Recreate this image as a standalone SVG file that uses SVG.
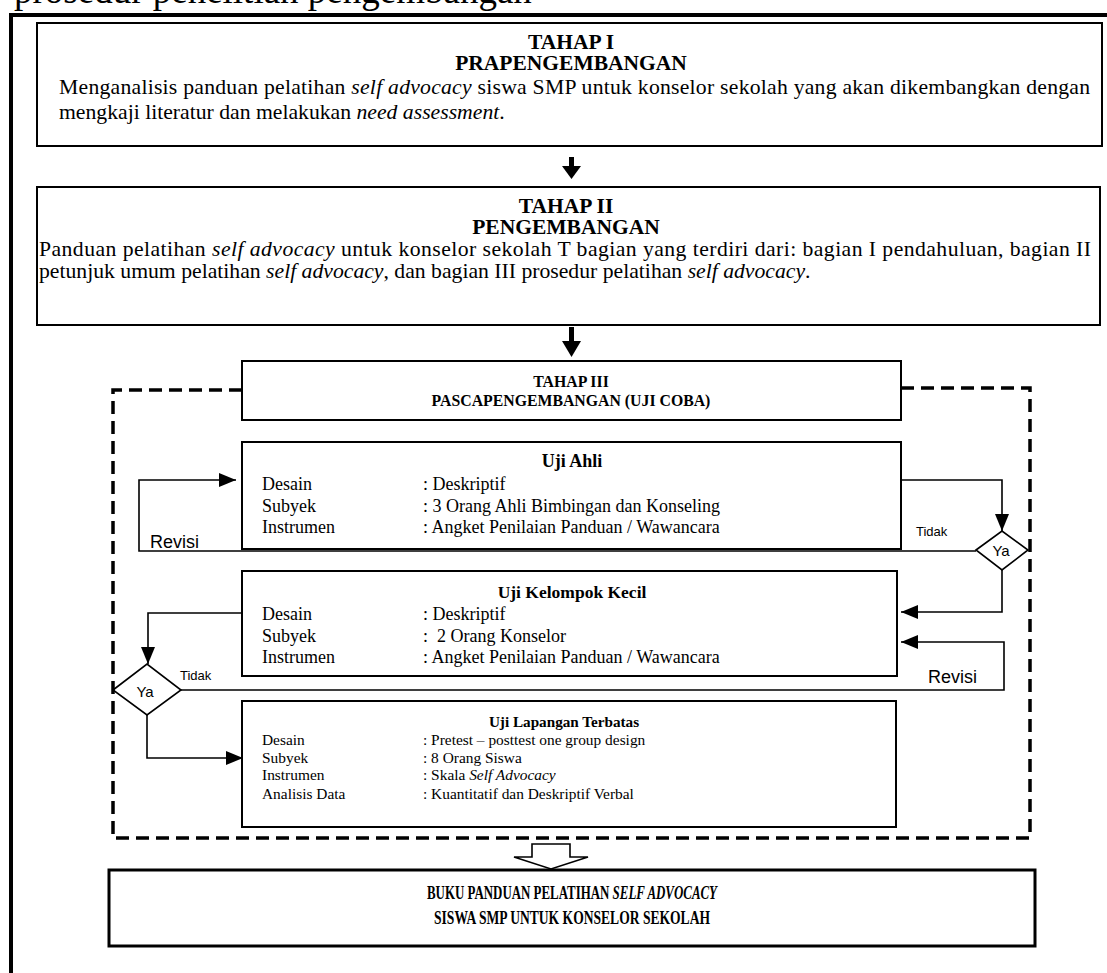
<svg xmlns="http://www.w3.org/2000/svg" width="1107" height="973" viewBox="0 0 1107 973">
<defs>
<style>
.box{fill:#fff;stroke:#000;stroke-width:2}
.t{font-family:"Liberation Serif","Times New Roman",serif;fill:#000}
.b{font-weight:bold}
.body{font-size:21.7px}
.h1{font-size:21.5px;font-weight:bold;text-anchor:middle}
.s{font-family:"Liberation Sans",Arial,sans-serif;fill:#000}
.ln{fill:none;stroke:#000;stroke-width:1.6}
.dash{fill:none;stroke:#000;stroke-width:3.5;stroke-dasharray:13 7}
.row{font-size:18px}
.row2{font-size:15.4px}
</style>
<marker id="ah" viewBox="0 0 17 14" refX="17" refY="7" markerWidth="17" markerHeight="14" markerUnits="userSpaceOnUse" orient="auto">
<path d="M0,0 L17,7 L0,14 Z" fill="#000"/>
</marker>
</defs>
<rect width="1107" height="973" fill="#fff"/>
<text class="t" x="14" y="3" font-size="37">prosedur penelitian pengembangan</text>
<path d="M11,973 V15 H1107" fill="none" stroke="#000" stroke-width="4"/>

<g id="tahap1">
<rect class="box" x="37" y="23" width="1065" height="123"/>
<text class="t h1" x="571" y="49">TAHAP I</text>
<text class="t h1" x="571" y="70">PRAPENGEMBANGAN</text>
<text class="t body" x="59" y="94" textLength="1031" lengthAdjust="spacing">Menganalisis panduan pelatihan <tspan font-style="italic">self advocacy</tspan> siswa SMP untuk konselor sekolah yang akan dikembangkan dengan</text>
<text class="t body" x="59" y="119">mengkaji literatur dan melakukan <tspan font-style="italic">need assessment</tspan>.</text>
</g>

<g id="tahap2">
<rect class="box" x="37" y="187" width="1063" height="138"/>
<text class="t h1" x="566" y="213">TAHAP II</text>
<text class="t h1" x="566" y="234">PENGEMBANGAN</text>
<text class="t body" x="39" y="256" textLength="1052" lengthAdjust="spacing">Panduan pelatihan <tspan font-style="italic">self advocacy</tspan> untuk konselor sekolah T bagian yang terdiri dari: bagian I pendahuluan, bagian II</text>
<text class="t body" x="39" y="278">petunjuk umum pelatihan <tspan font-style="italic">self advocacy</tspan>, dan bagian III prosedur pelatihan <tspan font-style="italic">self advocacy</tspan>.</text>
</g>

<g id="tahap3">
<rect class="box" x="242" y="361" width="659" height="59"/>
<text class="t b" x="571" y="387" font-size="15.8" text-anchor="middle">TAHAP III</text>
<text class="t b" x="571" y="406" font-size="15.8" text-anchor="middle">PASCAPENGEMBANGAN (UJI COBA)</text>
</g>

<g id="uji-ahli">
<rect class="box" x="242" y="442" width="659" height="107"/>
<text class="t b" x="572" y="467" font-size="18" text-anchor="middle">Uji Ahli</text>
<text class="t row" x="262" y="490">Desain</text>
<text class="t row" x="423" y="490">: Deskriptif</text>
<text class="t row" x="262" y="512">Subyek</text>
<text class="t row" x="423" y="512">: 3 Orang Ahli Bimbingan dan Konseling</text>
<text class="t row" x="262" y="533">Instrumen</text>
<text class="t row" x="423" y="533">: Angket Penilaian Panduan / Wawancara</text>
</g>

<g id="uji-kelompok-kecil">
<rect class="box" x="242" y="571" width="655" height="105"/>
<text class="t b" x="572" y="598" font-size="17.5" text-anchor="middle">Uji Kelompok Kecil</text>
<text class="t row" x="262" y="620">Desain</text>
<text class="t row" x="423" y="620">: Deskriptif</text>
<text class="t row" x="262" y="642">Subyek</text>
<text class="t row" x="423" y="642" xml:space="preserve">:  2 Orang Konselor</text>
<text class="t row" x="262" y="663">Instrumen</text>
<text class="t row" x="423" y="663">: Angket Penilaian Panduan / Wawancara</text>
</g>

<g id="uji-lapangan-terbatas">
<rect class="box" x="242" y="701" width="654" height="126"/>
<text class="t b" x="564" y="727" font-size="15.2" text-anchor="middle">Uji Lapangan Terbatas</text>
<text class="t row2" x="262" y="745">Desain</text>
<text class="t row2" x="423" y="745">: Pretest – posttest one group design</text>
<text class="t row2" x="262" y="763">Subyek</text>
<text class="t row2" x="423" y="763">: 8 Orang Siswa</text>
<text class="t row2" x="262" y="780">Instrumen</text>
<text class="t row2" x="423" y="780">: Skala <tspan font-style="italic">Self Advocacy</tspan></text>
<text class="t row2" x="262" y="799">Analisis Data</text>
<text class="t row2" x="423" y="799">: Kuantitatif dan Deskriptif Verbal</text>
</g>

<g id="decision-right">
<polygon points="976,550 1002,531 1028,550 1002,570" fill="#fff" stroke="#000" stroke-width="1.6"/>
<text class="s" x="1001" y="556" font-size="15" text-anchor="middle">Ya</text>
</g>

<g id="decision-left">
<polygon points="113,690 147,664 181,690 147,715" fill="#fff" stroke="#000" stroke-width="1.6"/>
<text class="s" x="145" y="697" font-size="15" text-anchor="middle">Ya</text>
</g>

<g id="final">
<rect x="109" y="870" width="926" height="76" fill="#fff" stroke="#000" stroke-width="3"/>
<text class="t b" x="572" y="899" font-size="19" text-anchor="middle" textLength="290" lengthAdjust="spacingAndGlyphs">BUKU PANDUAN PELATIHAN <tspan font-style="italic">SELF ADVOCACY</tspan></text>
<text class="t b" x="572" y="924" font-size="19" text-anchor="middle" textLength="276" lengthAdjust="spacingAndGlyphs">SISWA SMP UNTUK KONSELOR SEKOLAH</text>
</g>

<g id="connectors">
<rect x="569" y="157" width="5" height="10" fill="#000"/>
<polygon points="562,166 581,166 571.5,179" fill="#000"/>
<rect x="569" y="327" width="5" height="15" fill="#000"/>
<polygon points="562,341 581,341 571.5,357" fill="#000"/>
<path class="dash" d="M242,390 H113 V838 H1030 V388 H901"/>
<path class="ln" d="M901,480 H1002 V531" marker-end="url(#ah)"/>
<path class="ln" d="M976,551 H139 V480 H236" marker-end="url(#ah)"/>
<path class="ln" d="M1002,570 V612 H901" marker-end="url(#ah)"/>
<path class="ln" d="M181,690 H1004 V642 H901" marker-end="url(#ah)"/>
<path class="ln" d="M242,613 H148 V664" marker-end="url(#ah)"/>
<path class="ln" d="M147,715 V758 H243" marker-end="url(#ah)"/>
<path d="M532,844 H570 V857 H588 L551,869 L514,857 H532 Z" fill="#fff" stroke="#000" stroke-width="1.6"/>
<text class="s" x="916" y="536" font-size="13">Tidak</text>
<text class="s" x="150" y="548" font-size="18">Revisi</text>
<text class="s" x="180" y="680" font-size="13">Tidak</text>
<text class="s" x="928" y="683" font-size="18">Revisi</text>
</g>
</svg>
